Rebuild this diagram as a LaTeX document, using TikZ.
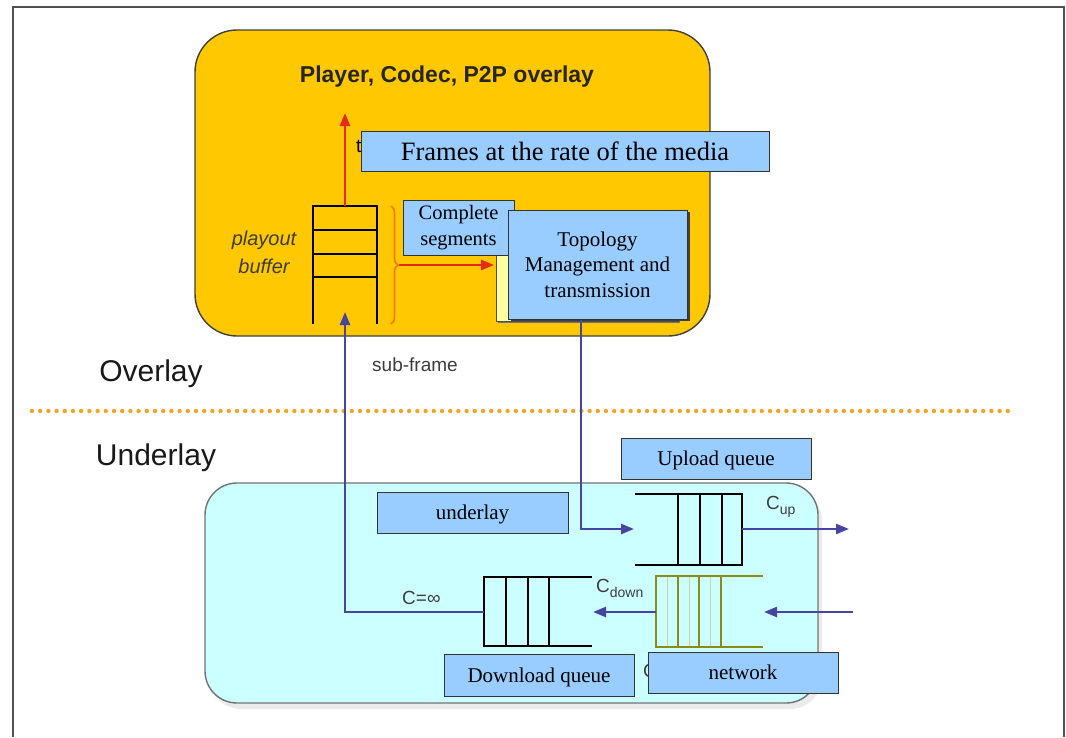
\documentclass[tikz,border=0pt]{standalone}
\usepackage{fontspec}
\setmainfont{Liberation Serif}
\setsansfont{Liberation Sans}
\usetikzlibrary{arrows.meta,decorations.pathreplacing}

\definecolor{paneyellow}{RGB}{255,200,0}
\definecolor{panecyan}{RGB}{204,255,255}
\definecolor{labelblue}{RGB}{153,204,255}
\definecolor{noteyellow}{RGB}{255,255,160}
\definecolor{linkblue}{RGB}{70,70,160}
\definecolor{flowred}{RGB}{232,40,26}
\definecolor{braceorange}{RGB}{240,120,30}
\definecolor{queueolive}{RGB}{140,140,20}
\definecolor{dotorange}{RGB}{240,165,40}
\definecolor{framegray}{RGB}{80,80,80}
\definecolor{textgray}{RGB}{60,60,60}

\tikzset{
  pane/.style={draw=framegray!80!black, line width=1.4pt},
  labelbox/.style={draw=black!80, line width=1pt, fill=labelblue, inner sep=0pt,
    align=center, font=\fontsize{21}{25.5}\selectfont},
  queueline/.style={line width=2.9pt, black, line cap=butt},
  oliveline/.style={line width=2.9pt, queueolive, line cap=butt},
  link/.style={line width=2.4pt, linkblue, -{Triangle[length=13pt,width=10pt]}},
  flow/.style={line width=2.4pt, flowred, -{Triangle[length=13pt,width=10pt]}},
  sanslabel/.style={font=\sffamily\fontsize{19}{19}\selectfont, text=textgray},
}

\begin{document}
\begin{tikzpicture}[x=1pt,y=-1pt]
\useasboundingbox (0,0) rectangle (1066,737);
\fill[white] (0,0) rectangle (1066,737);

% outer frame
\draw[framegray, line width=2.4pt] (13,737) -- (13,7) -- (1064,7) -- (1064,737);

% overlay pane
\path[pane, fill=paneyellow, rounded corners=42pt] (195,30) rectangle (710,336);
\node[font=\sffamily\bfseries\fontsize{23}{23}\selectfont, text=black!85] (title) at (447,77)
  {Player, Codec, P2P overlay};

% playout buffer
\draw[queueline] (313,324) -- (313,206) -- (377,206) -- (377,324);
\foreach \yy in {230,254,277} \draw[queueline] (313,\yy) -- (377,\yy);
\coordinate (buftop) at (345,206);
\coordinate (bufin) at (345,312);
\coordinate (frameout) at (345,113);
\node[font=\sffamily\itshape\fontsize{20}{28}\selectfont, text=textgray, align=center]
  (bufname) at (264,252) {playout\\buffer};

\draw[flow] (buftop) -- (frameout);

% segment brace and flow into topology management
\draw[braceorange, line width=1.6pt, decorate, decoration={brace, amplitude=7pt}]
  (391,206) -- (391,324);
\coordinate (bracetip) at (399,265);

% partly hidden label behind the frames box
\node[font=\sffamily\fontsize{19}{19}\selectfont, anchor=west, inner sep=0pt] (hidden1) at (356,146) {t};
\node[labelbox, minimum width=408pt, minimum height=40pt, font=\fontsize{26.5}{26.5}\selectfont]
  (frames) at (565,151) {Frames at the rate of the media};

% stacked boxes
\fill[black!55] (498,232) rectangle (680,323);
\draw[draw=black!70, line width=1pt, fill=noteyellow] (496,230) rectangle (678,321);
\coordinate (noteleft) at (494,265);
\draw[flow] (bracetip) -- (noteleft);

\node[labelbox, minimum width=111pt, minimum height=55pt, font=\fontsize{20.5}{26}\selectfont]
  (complete) at (458.5,227.5) {Complete\\segments};
\fill[black!75] (510.5,211.5) rectangle (689.5,320.5);
\node[labelbox, minimum width=179pt, minimum height=109pt]
  (topo) at (597.5,264.5) {Topology\\Management and\\transmission};

% layer labels and separator
\node[font=\sffamily\fontsize{30}{30}\selectfont, text=black!90] (overlay) at (151,374) {Overlay};
\node[font=\sffamily\fontsize{30}{30}\selectfont, text=black!90] (underlay) at (156,458) {Underlay};
\node[sanslabel] (subframe) at (415,365) {sub-frame};
\draw[dotorange, line width=4.4pt, line cap=round, dash pattern=on 0pt off 8.2pt]
  (32,411) -- (1015,411);

% underlay pane
\path[fill=black!8] (209,489) [rounded corners=32pt] rectangle (822,709);
\path[pane, draw=black!55, fill=panecyan, rounded corners=32pt] (205,483) rectangle (818,703);

\node[labelbox, minimum width=190pt, minimum height=41pt, text depth=0pt] (uplabel) at (716,458.5) {Upload queue};
\node[labelbox, minimum width=191pt, minimum height=41pt, text depth=0pt] (ulabel) at (472.5,512.5) {underlay};

% upload queue
\draw[queueline] (635,494) -- (742,494) -- (742,565) -- (635,565);
\foreach \xx in {678,700,722} \draw[queueline] (\xx,494) -- (\xx,565);
\coordinate (upin) at (634,529);
\coordinate (upout) at (742,529);
\coordinate (upnet) at (849,529);

% network queue
\foreach \xx in {667,689,710} \draw[queueolive!40, line width=0.7pt] (\xx,576) -- (\xx,647);
\draw[oliveline] (763,576) -- (656,576) -- (656,647) -- (763,647);
\foreach \xx in {678,699,721} \draw[oliveline] (\xx,576) -- (\xx,647);
\coordinate (netfar) at (853,612);
\coordinate (netin) at (764,612);
\coordinate (netout) at (656,612);

% download queue
\draw[queueline] (592,577) -- (484,577) -- (484,646) -- (592,646);
\foreach \xx in {506,528,549} \draw[queueline] (\xx,577) -- (\xx,646);
\coordinate (downin) at (593,612);
\coordinate (downout) at (484,612);
\coordinate (turn) at (345,612);

% links
\coordinate (topodrop) at (581,529);
\draw[link] (topo.south -| topodrop) -- (topodrop) -- (upin);
\draw[link] (upout) -- (upnet);
\draw[link] (netfar) -- (netin);
\draw[link] (netout) -- (downin);
\draw[link] (downout) -- (turn) -- (bufin);

% capacities
\node[sanslabel, anchor=west, inner sep=0pt] (cinf) at (402,598) {C=∞};
\node[sanslabel, anchor=west, inner sep=0pt] (cdown) at (596,588)
  {C\raisebox{-5pt}{\fontsize{14}{14}\selectfont down}};
\node[sanslabel, anchor=west, inner sep=0pt] (cup) at (766,507)
  {C\raisebox{-5pt}{\fontsize{14}{14}\selectfont up}};

% bottom labels
\node[sanslabel, anchor=west, inner sep=0pt] (hidden2) at (643,671) {C};
\node[labelbox, minimum width=190pt, minimum height=42pt, text depth=0pt] (dlabel) at (539,675) {Download queue};
\node[labelbox, minimum width=190pt, minimum height=41pt, text depth=0pt] (nlabel) at (743,672.5) {network};
\end{tikzpicture}
\end{document}
